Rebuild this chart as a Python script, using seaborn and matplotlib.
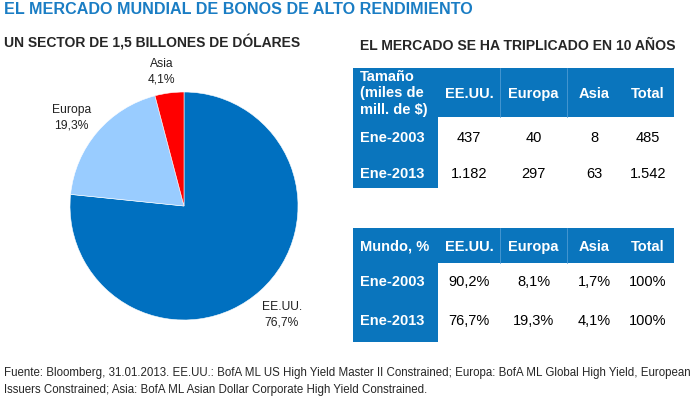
import numpy as np
import matplotlib.pyplot as plt
import seaborn as sns
from matplotlib.patches import Rectangle

sns.set_style("white")
plt.rcParams['font.family'] = ['Liberation Sans', 'DejaVu Sans']

# datos del grafico de tarta (ene-2013)
regiones = ["EE.UU.", "Europa", "Asia"]
cuota_2013 = [76.7, 19.3, 4.1]
colores = ["#0070C0", "#99CCFF", "#FF0000"]

# datos de las tablas
columnas = ["EE.UU.", "Europa", "Asia", "Total"]
fechas = ["Ene-2003", "Ene-2013"]
tam_2003 = ["437", "40", "8", "485"]
tam_2013 = ["1.182", "297", "63", "1.542"]
pct_2003 = ["90,2%", "8,1%", "1,7%", "100%"]
pct_2013 = ["76,7%", "19,3%", "4,1%", "100%"]

azul = "#0A75BD"
W, H = 698, 398

fig = plt.figure(figsize=(W / 100, H / 100), dpi=100)

# tarta
ax = fig.add_axes([70 / W, (H - 206 - 114) / H, 228 / W, 228 / H])
etiquetas = [f"{r}\n{str(v).replace('.', ',')}%" for r, v in zip(regiones, cuota_2013)]
wedges, textos = ax.pie(cuota_2013, colors=colores, startangle=90, counterclock=False,
                        labels=etiquetas, labeldistance=1.26,
                        wedgeprops=dict(edgecolor="white", linewidth=0.4),
                        textprops=dict(fontsize=8.7, color="#222222"))
# distancia y giro propios de cada etiqueta
dist = [1.28, 1.25, 1.19]
giro = [0, 2.5, 2]
for t, d, g in zip(textos, dist, giro):
    x, y = t.get_position()
    ang = np.arctan2(y, x) + np.radians(g)
    r = np.hypot(x, y) * d / 1.26
    t.set_position((r * np.cos(ang), r * np.sin(ang)))
    t.set_ha("center")
    t.set_va("center")
    t.set_linespacing(1.4)
ax.set_xlim(-1, 1)
ax.set_ylim(-1, 1)

# capa en pixeles para textos y tablas
ov = fig.add_axes([0, 0, 1, 1])
ov.set_xlim(0, W)
ov.set_ylim(H, 0)
ov.axis("off")

ov.text(4, 9, "EL MERCADO MUNDIAL DE BONOS DE ALTO RENDIMIENTO", color="#1A7DC4",
        fontsize=11.6, fontweight="bold", va="center", ha="left")
ov.text(4, 42, "UN SECTOR DE 1,5 BILLONES DE DÓLARES", fontsize=10, fontweight="bold",
        va="center", ha="left")
ov.text(360, 46, "EL MERCADO SE HA TRIPLICADO EN 10 AÑOS", fontsize=10.1, fontweight="bold",
        va="center", ha="left")

col_x = [353, 438, 500, 567, 622, 674]
fs = 10.5


def tabla(cabecera, filas, y_bordes):
    # fila de cabecera
    ov.add_patch(Rectangle((col_x[0], y_bordes[0]), col_x[-1] - col_x[0],
                           y_bordes[1] - y_bordes[0], color=azul, lw=0))
    for xs in col_x[2:4]:
        ov.plot([xs, xs], [y_bordes[0], y_bordes[1]], color="#4D9BD3", lw=0.6)
    yc = (y_bordes[0] + y_bordes[1]) / 2
    ov.text(col_x[0] + 7, yc + 1, cabecera, color="white", fontsize=fs, fontweight="bold",
            va="center", ha="left", linespacing=1.2)
    for i, c in enumerate(columnas):
        ov.text((col_x[i + 1] + col_x[i + 2]) / 2, yc, c, color="white", fontsize=fs,
                fontweight="bold", va="center_baseline", ha="center")
    # filas de datos
    for j, (fecha, valores) in enumerate(zip(fechas, filas)):
        y0, y1 = y_bordes[j + 1], y_bordes[j + 2]
        ov.add_patch(Rectangle((col_x[0], y0), col_x[1] - col_x[0], y1 - y0,
                               color=azul, lw=0))
        yc = (y0 + y1) / 2
        ov.text(col_x[0] + 7, yc, fecha, color="white", fontsize=fs, fontweight="bold",
                va="center_baseline", ha="left")
        for i, v in enumerate(valores):
            ov.text((col_x[i + 1] + col_x[i + 2]) / 2, yc, v, color="black", fontsize=fs,
                    va="center_baseline", ha="center")


tabla("Tamaño\n(miles de\nmill. de $)", [tam_2003, tam_2013], [68, 117, 157, 188])
tabla("Mundo, %", [pct_2003, pct_2013], [228, 263, 297, 342])

nota_1 = ("Fuente: Bloomberg, 31.01.2013. EE.UU.: BofA ML US High Yield Master II Constrained; "
          "Europa: BofA ML Global High Yield, European")
nota_2 = "Issuers Constrained; Asia: BofA ML Asian Dollar Corporate High Yield Constrained."
ov.text(4, 373, nota_1, fontsize=8.3, va="center", ha="left")
ov.text(4, 390, nota_2, fontsize=8.3, va="center", ha="left")

fig.savefig("out.png", dpi=100)
